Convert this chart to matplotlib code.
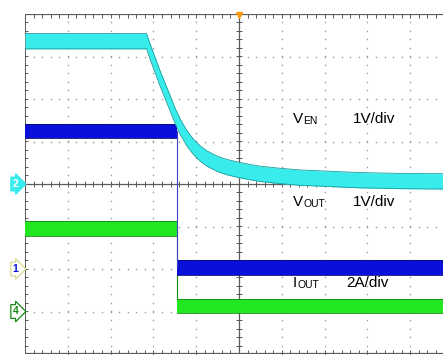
import numpy as np
import matplotlib
matplotlib.use("Agg")
import matplotlib.pyplot as plt

plt.rcParams['font.family'] = ['Liberation Sans', 'DejaVu Sans']

# screen is 10 x 8 divisions, time in divisions from the trigger (centre)
# VOUT (ch2, 1V/div, ground at 0 div) - centre of the noisy band
vout_t = [-5.0, -2.16, -2.08, -1.96, -1.85, -1.73, -1.61, -1.50, -1.38, -1.22, -1.07,
          -0.91, -0.75, -0.52, -0.29, 0.0, 0.26, 0.49, 0.96, 1.43, 2.13, 2.8, 3.76, 5.0]
vout_v = [3.36, 3.36, 3.12, 2.80, 2.50, 2.20, 1.90, 1.62, 1.36, 1.08, 0.88,
          0.72, 0.60, 0.48, 0.40, 0.33, 0.28, 0.24, 0.19, 0.15, 0.12, 0.09, 0.07, 0.06]

# VEN (ch1, 1V/div, ground at -2 div)
en_step_t = -1.45
en_before = 3.25
en_after = 0.04
en_offset = -2.0

# IOUT (ch4, 2A/div, ground at -3 div)
iout_before = 3.9
iout_after = 0.26
iout_scale = 2.0
iout_offset = -3.0

labels = [("V", "EN", "1V/div", 1.53), ("V", "OUT", "1V/div", -0.42), ("I", "OUT", "2A/div", -2.33)]

CYAN = '#38ecec'
CYAN_E = '#1c9c9c'
BLUE = '#0a10d8'
BLUE_E = '#06087a'
GREEN = '#22e622'
GREEN_E = '#138a13'
GRID = '#9a9a9a'
AXC = '#5a5a5a'

fig = plt.figure(figsize=(4.43, 3.58), dpi=100)
ax = fig.add_axes([25 / 443, 4 / 358, 428 / 443, 340 / 358])
ax.set_xlim(-5, 5)
ax.set_ylim(-4, 4)
ax.axis('off')

# dotted graticule
fine = np.arange(-5, 5.001, 0.2)
fine_y = np.arange(-4, 4.001, 0.2)
for gx in range(-4, 5):
    if gx == 0:
        continue
    ax.plot(np.full_like(fine_y, gx), fine_y, ls='none', marker='s', ms=1.0, color=GRID, mew=0)
for gy in range(-3, 4):
    if gy == 0:
        continue
    ax.plot(fine, np.full_like(fine, gy), ls='none', marker='s', ms=1.0, color=GRID, mew=0)

# centre cross and borders with ticks
ax.axhline(0, color=AXC, lw=0.9)
ax.axvline(0, color=AXC, lw=0.9)
ax.axhline(4, color=AXC, lw=1.6)
ax.axhline(-4, color=AXC, lw=1.6)
ax.axvline(-5, color=AXC, lw=1.4)
ax.vlines(fine, -0.07, 0.07, color=AXC, lw=0.7)
ax.hlines(fine_y, -0.07, 0.07, color=AXC, lw=0.7)
ax.vlines(fine, 3.9, 4, color=AXC, lw=0.7)
ax.vlines(fine, -4, -3.9, color=AXC, lw=0.7)
ax.hlines(fine_y, -5, -4.92, color=AXC, lw=0.7)

# trigger marker
ax.plot([0], [3.97], marker='v', ms=5, color='#ff9a10', clip_on=False)


def band(t, v, half, fc, ec):
    t = np.asarray(t)
    v = np.asarray(v)
    ax.fill_between(t, v - half, v + half, color=fc, lw=0, zorder=3)
    ax.plot(t, v + half, color=ec, lw=0.6, zorder=3)
    ax.plot(t, v - half, color=ec, lw=0.6, zorder=3)


# IOUT
ib = iout_before / iout_scale + iout_offset
ia = iout_after / iout_scale + iout_offset
ax.plot([en_step_t, en_step_t], [ib, ia], color=GREEN_E, lw=0.8, zorder=3)
band([-5, en_step_t], [ib, ib], 0.17, GREEN, GREEN_E)
band([en_step_t, 5], [ia, ia], 0.17, GREEN, GREEN_E)

# VEN
eb = en_before + en_offset
ea = en_after + en_offset
ax.plot([en_step_t, en_step_t], [eb, ea], color='#4040c0', lw=0.8, zorder=4)
band([-5, en_step_t], [eb, eb], 0.17, BLUE, BLUE_E)
band([en_step_t, 5], [ea, ea], 0.17, BLUE, BLUE_E)

# VOUT
band(vout_t, vout_v, 0.18, CYAN, CYAN_E)

# channel markers
for num, y, fc, ec, tc in [("2", 0.0, CYAN, CYAN, 'white'), ("1", -2.0, 'white', '#d8d890', BLUE),
                          ("4", -3.0, 'white', GREEN_E, GREEN_E)]:
    ax.text(-5.22, y, num, ha='center', va='center', fontsize=7.5, color=tc, fontweight='bold',
            clip_on=False, bbox=dict(boxstyle='rarrow,pad=0.18', fc=fc, ec=ec, lw=0.9))

# scale labels
for big, small, scale, y in labels:
    tb = ax.text(1.25, y, big, fontsize=11, va='center', ha='left', zorder=6)
    fig.canvas.draw()
    bb = tb.get_window_extent()
    xd = ax.transData.inverted().transform((bb.x1 + 1, 0))[0]
    ax.text(xd, y - 0.05, small, fontsize=7.5, va='center', ha='left', zorder=6)
    ax.text(2.66 if scale.startswith('1') else 2.50, y, scale, fontsize=11, va='center', ha='left', zorder=6)

fig.savefig('out.png', dpi=100)
